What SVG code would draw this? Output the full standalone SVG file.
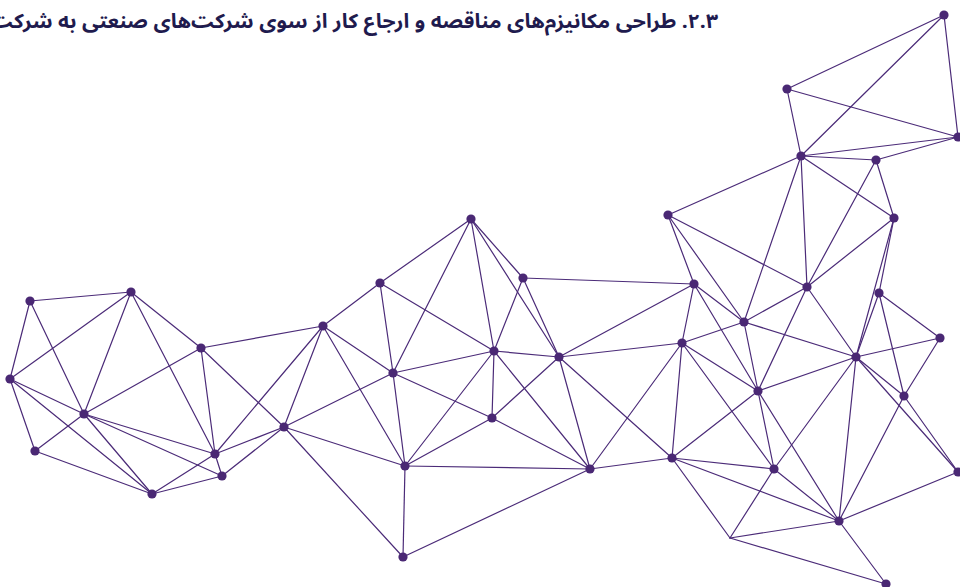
<svg xmlns="http://www.w3.org/2000/svg" width="960" height="587" viewBox="0 0 960 587">
  <style>
    .edge { stroke: #4b2b78; stroke-width: 1.2; stroke-linecap: round; }
    .node circle { fill: #4a2874; }
    .title { font-family: "Noto Sans Arabic", "DejaVu Sans", sans-serif; font-size: 20px; font-weight: 700; fill: #1f1b4e; }
  </style>
  <rect width="960" height="587" fill="#ffffff"/>

  <text class="title" x="718" y="28" direction="rtl" unicode-bidi="embed" text-anchor="start" textLength="728" lengthAdjust="spacingAndGlyphs">۲.۳.  طراحی مکانیزم‌های مناقصه و ارجاع کار از سوی شرکت‌های صنعتی به شرکت</text>

  <g id="connectors" class="edge">
    <!-- left cluster -->
    <line x1="30" y1="301" x2="131" y2="292"/>
    <line x1="30" y1="301" x2="10" y2="379"/>
    <line x1="30" y1="301" x2="84" y2="414"/>
    <line x1="131" y1="292" x2="10" y2="379"/>
    <line x1="131" y1="292" x2="84" y2="414"/>
    <line x1="131" y1="292" x2="201" y2="348"/>
    <line x1="131" y1="292" x2="215" y2="454"/>
    <line x1="10" y1="379" x2="84" y2="414"/>
    <line x1="10" y1="379" x2="35" y2="451"/>
    <line x1="10" y1="379" x2="152" y2="494"/>
    <line x1="84" y1="414" x2="35" y2="451"/>
    <line x1="84" y1="414" x2="215" y2="454"/>
    <line x1="84" y1="414" x2="222" y2="476"/>
    <line x1="84" y1="414" x2="152" y2="494"/>
    <line x1="84" y1="414" x2="201" y2="348"/>
    <line x1="201" y1="348" x2="215" y2="454"/>
    <line x1="201" y1="348" x2="323" y2="326"/>
    <line x1="201" y1="348" x2="284" y2="427"/>
    <line x1="35" y1="451" x2="152" y2="494"/>
    <line x1="215" y1="454" x2="152" y2="494"/>
    <line x1="215" y1="454" x2="222" y2="476"/>
    <line x1="222" y1="476" x2="152" y2="494"/>
    <line x1="215" y1="454" x2="323" y2="326"/>
    <line x1="215" y1="454" x2="284" y2="427"/>
    <line x1="222" y1="476" x2="284" y2="427"/>
    <line x1="323" y1="326" x2="284" y2="427"/>
    <!-- middle cluster -->
    <line x1="323" y1="326" x2="380" y2="283"/>
    <line x1="323" y1="326" x2="393" y2="373"/>
    <line x1="323" y1="326" x2="405" y2="466"/>
    <line x1="284" y1="427" x2="393" y2="373"/>
    <line x1="284" y1="427" x2="405" y2="466"/>
    <line x1="284" y1="427" x2="403" y2="557"/>
    <line x1="380" y1="283" x2="471" y2="219"/>
    <line x1="380" y1="283" x2="393" y2="373"/>
    <line x1="380" y1="283" x2="494" y2="351"/>
    <line x1="471" y1="219" x2="393" y2="373"/>
    <line x1="471" y1="219" x2="494" y2="351"/>
    <line x1="471" y1="219" x2="523" y2="278"/>
    <line x1="471" y1="219" x2="559" y2="357"/>
    <line x1="523" y1="278" x2="494" y2="351"/>
    <line x1="523" y1="278" x2="559" y2="357"/>
    <line x1="523" y1="278" x2="694" y2="284"/>
    <line x1="393" y1="373" x2="494" y2="351"/>
    <line x1="393" y1="373" x2="492" y2="418"/>
    <line x1="393" y1="373" x2="405" y2="466"/>
    <line x1="494" y1="351" x2="492" y2="418"/>
    <line x1="494" y1="351" x2="405" y2="466"/>
    <line x1="494" y1="351" x2="559" y2="357"/>
    <line x1="494" y1="351" x2="590" y2="469"/>
    <line x1="559" y1="357" x2="492" y2="418"/>
    <line x1="559" y1="357" x2="590" y2="469"/>
    <line x1="559" y1="357" x2="694" y2="284"/>
    <line x1="559" y1="357" x2="682" y2="343"/>
    <line x1="559" y1="357" x2="672" y2="458"/>
    <line x1="492" y1="418" x2="405" y2="466"/>
    <line x1="492" y1="418" x2="590" y2="469"/>
    <line x1="405" y1="466" x2="590" y2="469"/>
    <line x1="405" y1="466" x2="403" y2="557"/>
    <line x1="403" y1="557" x2="590" y2="469"/>
    <line x1="590" y1="469" x2="672" y2="458"/>
    <line x1="590" y1="469" x2="682" y2="343"/>
    <!-- right cluster -->
    <line x1="944" y1="15" x2="787" y2="89"/>
    <line x1="944" y1="15" x2="801" y2="156"/>
    <line x1="944" y1="15" x2="958" y2="137"/>
    <line x1="787" y1="89" x2="958" y2="137"/>
    <line x1="787" y1="89" x2="801" y2="156"/>
    <line x1="801" y1="156" x2="958" y2="137"/>
    <line x1="801" y1="156" x2="876" y2="160"/>
    <line x1="876" y1="160" x2="958" y2="137"/>
    <line x1="801" y1="156" x2="668" y2="215"/>
    <line x1="801" y1="156" x2="894" y2="218"/>
    <line x1="801" y1="156" x2="807" y2="287"/>
    <line x1="801" y1="156" x2="744" y2="322"/>
    <line x1="876" y1="160" x2="894" y2="218"/>
    <line x1="876" y1="160" x2="807" y2="287"/>
    <line x1="894" y1="218" x2="807" y2="287"/>
    <line x1="894" y1="218" x2="879" y2="293"/>
    <line x1="894" y1="218" x2="856" y2="357"/>
    <line x1="879" y1="293" x2="856" y2="357"/>
    <line x1="668" y1="215" x2="694" y2="284"/>
    <line x1="668" y1="215" x2="744" y2="322"/>
    <line x1="668" y1="215" x2="807" y2="287"/>
    <line x1="694" y1="284" x2="744" y2="322"/>
    <line x1="694" y1="284" x2="682" y2="343"/>
    <line x1="694" y1="284" x2="758" y2="391"/>
    <line x1="807" y1="287" x2="744" y2="322"/>
    <line x1="807" y1="287" x2="758" y2="391"/>
    <line x1="807" y1="287" x2="856" y2="357"/>
    <line x1="879" y1="293" x2="940" y2="338"/>
    <line x1="879" y1="293" x2="904" y2="396"/>
    <line x1="744" y1="322" x2="682" y2="343"/>
    <line x1="744" y1="322" x2="856" y2="357"/>
    <line x1="744" y1="322" x2="758" y2="391"/>
    <line x1="682" y1="343" x2="758" y2="391"/>
    <line x1="682" y1="343" x2="672" y2="458"/>
    <line x1="682" y1="343" x2="774" y2="469"/>
    <line x1="856" y1="357" x2="940" y2="338"/>
    <line x1="856" y1="357" x2="758" y2="391"/>
    <line x1="856" y1="357" x2="904" y2="396"/>
    <line x1="856" y1="357" x2="958" y2="472"/>
    <line x1="856" y1="357" x2="774" y2="469"/>
    <line x1="856" y1="357" x2="839" y2="521"/>
    <line x1="940" y1="338" x2="904" y2="396"/>
    <line x1="904" y1="396" x2="958" y2="472"/>
    <line x1="904" y1="396" x2="839" y2="521"/>
    <line x1="758" y1="391" x2="672" y2="458"/>
    <line x1="758" y1="391" x2="774" y2="469"/>
    <line x1="758" y1="391" x2="839" y2="521"/>
    <line x1="672" y1="458" x2="774" y2="469"/>
    <line x1="672" y1="458" x2="839" y2="521"/>
    <line x1="672" y1="458" x2="730" y2="538"/>
    <line x1="774" y1="469" x2="730" y2="538"/>
    <line x1="774" y1="469" x2="839" y2="521"/>
    <line x1="730" y1="538" x2="839" y2="521"/>
    <line x1="730" y1="538" x2="886" y2="584"/>
    <line x1="839" y1="521" x2="886" y2="584"/>
    <line x1="839" y1="521" x2="958" y2="472"/>
  </g>

  <g id="nodes">
    <g id="n-a" class="node"><circle cx="30" cy="301" r="4.6"/></g>
    <g id="n-b" class="node"><circle cx="131" cy="292" r="4.6"/></g>
    <g id="n-c" class="node"><circle cx="10" cy="379" r="4.6"/></g>
    <g id="n-d" class="node"><circle cx="84" cy="414" r="4.6"/></g>
    <g id="n-e" class="node"><circle cx="201" cy="348" r="4.6"/></g>
    <g id="n-f" class="node"><circle cx="35" cy="451" r="4.6"/></g>
    <g id="n-g" class="node"><circle cx="215" cy="454" r="4.6"/></g>
    <g id="n-h" class="node"><circle cx="222" cy="476" r="4.6"/></g>
    <g id="n-i" class="node"><circle cx="152" cy="494" r="4.6"/></g>
    <g id="n-j" class="node"><circle cx="323" cy="326" r="4.6"/></g>
    <g id="n-k" class="node"><circle cx="284" cy="427" r="4.6"/></g>
    <g id="n-l" class="node"><circle cx="380" cy="283" r="4.6"/></g>
    <g id="n-m" class="node"><circle cx="471" cy="219" r="4.6"/></g>
    <g id="n-n" class="node"><circle cx="523" cy="278" r="4.6"/></g>
    <g id="n-o" class="node"><circle cx="393" cy="373" r="4.6"/></g>
    <g id="n-p" class="node"><circle cx="494" cy="351" r="4.6"/></g>
    <g id="n-q" class="node"><circle cx="559" cy="357" r="4.6"/></g>
    <g id="n-r" class="node"><circle cx="492" cy="418" r="4.6"/></g>
    <g id="n-s" class="node"><circle cx="405" cy="466" r="4.6"/></g>
    <g id="n-t" class="node"><circle cx="590" cy="469" r="4.6"/></g>
    <g id="n-u" class="node"><circle cx="403" cy="557" r="4.6"/></g>
    <g id="n-v" class="node"><circle cx="944" cy="15" r="4.6"/></g>
    <g id="n-w" class="node"><circle cx="787" cy="89" r="4.6"/></g>
    <g id="n-x" class="node"><circle cx="958" cy="137" r="4.6"/></g>
    <g id="n-y" class="node"><circle cx="801" cy="156" r="4.6"/></g>
    <g id="n-z" class="node"><circle cx="876" cy="160" r="4.6"/></g>
    <g id="n-aa" class="node"><circle cx="668" cy="215" r="4.6"/></g>
    <g id="n-ab" class="node"><circle cx="894" cy="218" r="4.6"/></g>
    <g id="n-ac" class="node"><circle cx="694" cy="284" r="4.6"/></g>
    <g id="n-ad" class="node"><circle cx="807" cy="287" r="4.6"/></g>
    <g id="n-ae" class="node"><circle cx="879" cy="293" r="4.6"/></g>
    <g id="n-af" class="node"><circle cx="744" cy="322" r="4.6"/></g>
    <g id="n-ag" class="node"><circle cx="682" cy="343" r="4.6"/></g>
    <g id="n-ah" class="node"><circle cx="940" cy="338" r="4.6"/></g>
    <g id="n-ai" class="node"><circle cx="856" cy="357" r="4.6"/></g>
    <g id="n-aj" class="node"><circle cx="758" cy="391" r="4.6"/></g>
    <g id="n-ak" class="node"><circle cx="904" cy="396" r="4.6"/></g>
    <g id="n-al" class="node"><circle cx="672" cy="458" r="4.6"/></g>
    <g id="n-am" class="node"><circle cx="774" cy="469" r="4.6"/></g>
    <g id="n-an" class="node"><circle cx="958" cy="472" r="4.6"/></g>
    <g id="n-ao" class="node"><circle cx="839" cy="521" r="4.6"/></g>
    <g id="n-aq" class="node"><circle cx="886" cy="584" r="4.6"/></g>
  </g>
</svg>
